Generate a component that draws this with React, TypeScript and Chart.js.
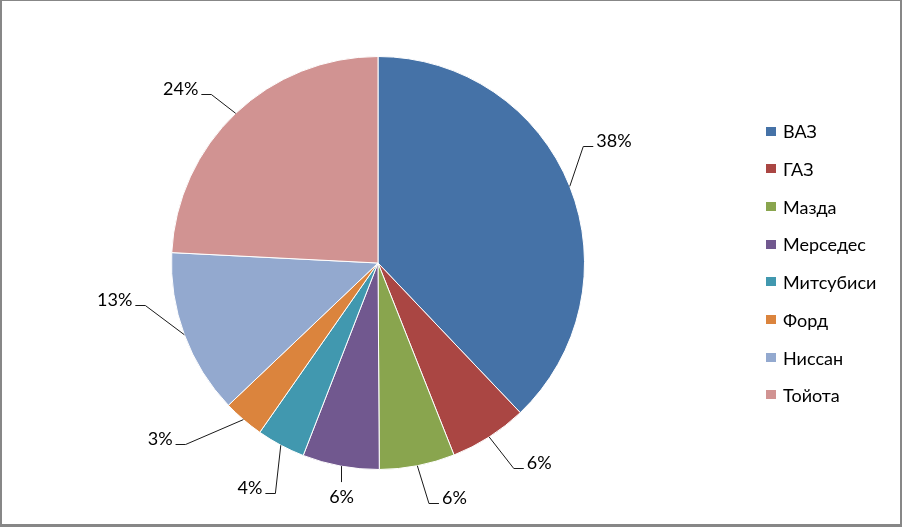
import React, { useEffect, useRef } from "react";
import { Chart, registerables } from "chart.js";

Chart.register(...registerables);

// ---- data ----
const categories = ["ВАЗ", "ГАЗ", "Мазда", "Мерседес", "Митсубиси", "Форд", "Ниссан", "Тойота"];
const shares = [37.9, 6.1, 5.9, 6.0, 3.8, 3.2, 12.9, 24.2];
const sliceColors = ["#4572A7", "#AA4643", "#89A54E", "#71588F", "#4198AF", "#DB843D", "#93A9CF", "#D19392"];

// ---- styling / layout (label placement relative to each slice) ----
const FONT_FAMILY = "Lato, Calibri, 'Noto Sans', sans-serif";
const LABEL_FONT = `18px ${FONT_FAMILY}`;
const LEGEND_FONT = `18px ${FONT_FAMILY}`;
const W = 902;
const H = 527;
const LEGEND_BOX_X = 766;
const LEGEND_TEXT_X = 783;
const LEGEND_TOP = 131.5;
const LEGEND_STEP = 37.7;
const LEGEND_BOX = 10;
// angular nudge (deg) and radial extension (px) of each label's leader elbow;
// null = straight-down leader with label centred beneath
const labelAngleNudge = [-8, -1, -1, null, -4, 6, 10, -1];
const labelRadialExt = [30, 39, 39, 16, 45, 58, 30, 31];

const framePlugin = {
  id: "frame",
  beforeDraw(chart: any) {
    const ctx = chart.ctx;
    ctx.save();
    ctx.fillStyle = "#ffffff";
    ctx.fillRect(0, 0, chart.width, chart.height);
    ctx.restore();
  },
  afterDraw(chart: any) {
    const ctx = chart.ctx;
    ctx.save();
    ctx.fillStyle = "#878787";
    ctx.fillRect(0, 0, chart.width, 1);
    ctx.fillRect(0, 0, 2, chart.height);
    ctx.fillRect(chart.width - 2, 0, 2, chart.height);
    ctx.fillRect(0, chart.height - 3, chart.width, 3);
    ctx.restore();
  },
};

const legendPlugin = {
  id: "customLegend",
  afterDraw(chart: any) {
    const ctx = chart.ctx;
    const labels = chart.data.labels as string[];
    const colors = chart.data.datasets[0].backgroundColor as string[];
    ctx.save();
    ctx.font = LEGEND_FONT;
    ctx.textAlign = "left";
    ctx.textBaseline = "middle";
    labels.forEach((lab, i) => {
      const cy = LEGEND_TOP + i * LEGEND_STEP;
      ctx.fillStyle = colors[i];
      ctx.fillRect(LEGEND_BOX_X, Math.round(cy - LEGEND_BOX / 2), LEGEND_BOX, LEGEND_BOX - 1);
      ctx.fillStyle = "#000000";
      ctx.fillText(lab, LEGEND_TEXT_X, cy + 1);
    });
    ctx.restore();
  },
};

const labelPlugin = {
  id: "pieLabels",
  afterDatasetsDraw(chart: any) {
    const ctx = chart.ctx;
    const meta = chart.getDatasetMeta(0);
    const data = chart.data.datasets[0].data as number[];
    const total = data.reduce((a, b) => a + b, 0);
    ctx.save();
    ctx.font = LABEL_FONT;
    ctx.fillStyle = "#000000";
    ctx.strokeStyle = "#1a1a1a";
    ctx.lineWidth = 1;
    meta.data.forEach((arc: any, i: number) => {
      const { x, y, startAngle, endAngle, outerRadius } = arc.getProps(
        ["x", "y", "startAngle", "endAngle", "outerRadius"],
        true
      );
      const mid = (startAngle + endAngle) / 2;
      const text = Math.round((data[i] / total) * 100) + "%";
      const sx = x + Math.cos(mid) * outerRadius;
      const sy = y + Math.sin(mid) * outerRadius;
      const nudge = labelAngleNudge[i];
      const ext = labelRadialExt[i];
      if (nudge === null) {
        const lx = Math.round(sx) + 0.5;
        ctx.beginPath();
        ctx.moveTo(lx, sy);
        ctx.lineTo(lx, sy + ext);
        ctx.stroke();
        ctx.textAlign = "center";
        ctx.textBaseline = "alphabetic";
        ctx.fillText(text, sx + 1, sy + 37);
      } else {
        const a = mid + (nudge * Math.PI) / 180;
        const r2 = outerRadius + ext;
        const ex = x + Math.cos(a) * r2;
        const ey = Math.round(y + Math.sin(a) * r2) + 0.5;
        const dir = Math.cos(a) >= 0 ? 1 : -1;
        const hx = ex + dir * 10;
        ctx.beginPath();
        ctx.moveTo(sx, sy);
        ctx.lineTo(ex, ey);
        ctx.lineTo(hx, ey);
        ctx.stroke();
        ctx.textAlign = dir > 0 ? "left" : "right";
        ctx.textBaseline = "alphabetic";
        ctx.fillText(text, hx + dir * 3, ey + 0.5);
      }
    });
    ctx.restore();
  },
};

export default function App() {
  const canvasRef = useRef<HTMLCanvasElement | null>(null);

  useEffect(() => {
    if (!canvasRef.current) return;
    const chart = new Chart(canvasRef.current, {
      type: "pie",
      data: {
        labels: categories,
        datasets: [
          {
            data: shares,
            backgroundColor: sliceColors,
            borderColor: "#ffffff",
            borderWidth: 1,
          },
        ],
      },
      options: {
        responsive: false,
        animation: false,
        devicePixelRatio: 1,
        layout: { padding: { left: 171, top: 56, right: 317, bottom: 57 } },
        plugins: {
          legend: { display: false },
          tooltip: { enabled: false },
          title: { display: false },
        },
      },
      plugins: [framePlugin, labelPlugin, legendPlugin],
    });
    return () => chart.destroy();
  }, []);

  return (
    <div style={{ position: "fixed", left: 0, top: 0, width: W, height: H, background: "#fff" }}>
      <canvas ref={canvasRef} width={W} height={H} style={{ display: "block", width: W, height: H }} />
    </div>
  );
}
